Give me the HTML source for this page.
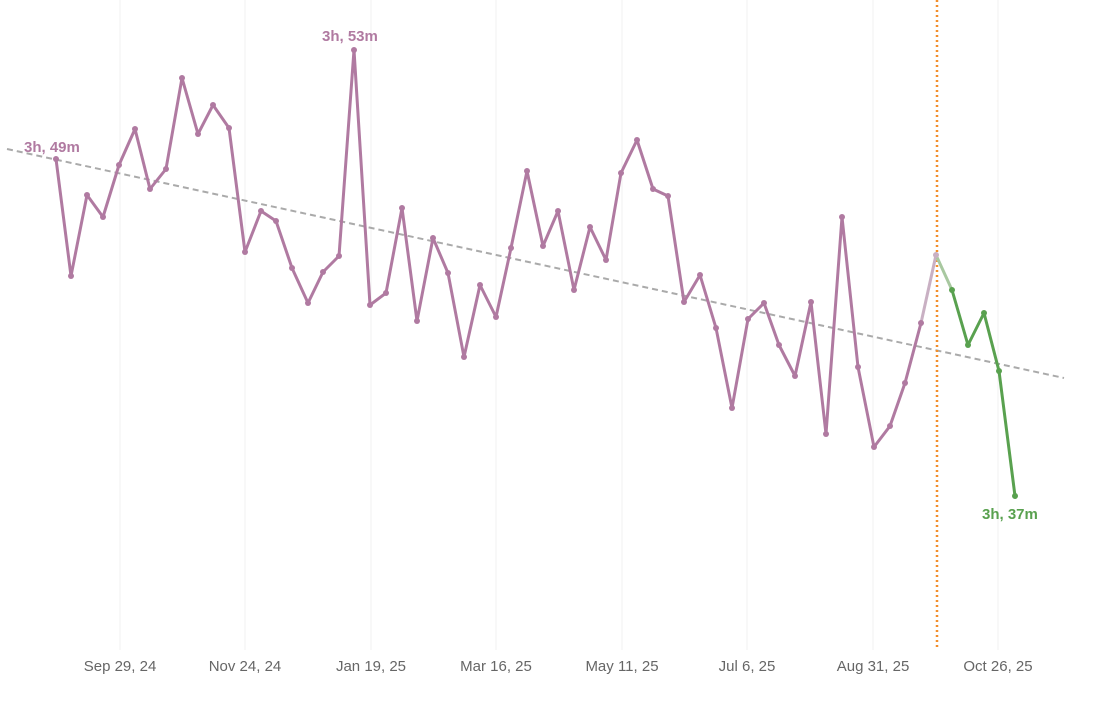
<!DOCTYPE html>
<html><head><style>
body{margin:0;background:#fff;}
svg{display:block;font-family:"Liberation Sans",sans-serif;}
</style></head><body>
<svg width="1093" height="710" xmlns="http://www.w3.org/2000/svg">
<g stroke="#f0f0f0" stroke-width="1">
<line x1="120" y1="0" x2="120" y2="650"/><line x1="245" y1="0" x2="245" y2="650"/>
<line x1="371" y1="0" x2="371" y2="650"/><line x1="496" y1="0" x2="496" y2="650"/>
<line x1="622" y1="0" x2="622" y2="650"/><line x1="747" y1="0" x2="747" y2="650"/>
<line x1="873" y1="0" x2="873" y2="650"/><line x1="998" y1="0" x2="998" y2="650"/>
</g>
<g fill="#666" font-size="15" text-anchor="middle">
<text x="120" y="671">Sep 29, 24</text><text x="245" y="671">Nov 24, 24</text>
<text x="371" y="671">Jan 19, 25</text><text x="496" y="671">Mar 16, 25</text>
<text x="622" y="671">May 11, 25</text><text x="747" y="671">Jul 6, 25</text>
<text x="873" y="671">Aug 31, 25</text><text x="998" y="671">Oct 26, 25</text>
</g>
<line x1="7" y1="149" x2="1064" y2="378" stroke="#aaa" stroke-width="2" stroke-dasharray="6,4"/>
<line x1="937" y1="0" x2="937" y2="648" stroke="#f28e2b" stroke-width="2.5" stroke-dasharray="2,3"/>
<polyline fill="none" stroke="#b07aa1" stroke-width="3" stroke-linejoin="round" points="56,159 71,276 87,195 103,217 119,165 135,129 150,189 166,169 182,78 198,134 213,105 229,128 245,252 261,211 276,221 292,268 308,303 323,272 339,256 354,50 370,305 386,293 402,208 417,321 433,238 448,273 464,357 480,285 496,317 511,248 527,171 543,246 558,211 574,290 590,227 606,260 621,173 637,140 653,189 668,196 684,302 700,275 716,328 732,408 748,319 764,303 779,345 795,376 811,302 826,434 842,217 858,367 874,447 890,426 905,383 921,323"/>
<line x1="921" y1="323" x2="936" y2="255" stroke="#c9b0c3" stroke-width="3"/>
<line x1="936" y1="255" x2="952" y2="290" stroke="#a8c8a0" stroke-width="3"/>
<polyline fill="none" stroke="#59a14f" stroke-width="3" stroke-linejoin="round" points="952,290 968,345 984,313 999,371 1015,496"/>
<g fill="#b07aa1">
<circle cx="56" cy="159" r="3"/><circle cx="71" cy="276" r="3"/><circle cx="87" cy="195" r="3"/><circle cx="103" cy="217" r="3"/><circle cx="119" cy="165" r="3"/><circle cx="135" cy="129" r="3"/><circle cx="150" cy="189" r="3"/><circle cx="166" cy="169" r="3"/><circle cx="182" cy="78" r="3"/><circle cx="198" cy="134" r="3"/><circle cx="213" cy="105" r="3"/><circle cx="229" cy="128" r="3"/><circle cx="245" cy="252" r="3"/><circle cx="261" cy="211" r="3"/><circle cx="276" cy="221" r="3"/><circle cx="292" cy="268" r="3"/><circle cx="308" cy="303" r="3"/><circle cx="323" cy="272" r="3"/><circle cx="339" cy="256" r="3"/><circle cx="354" cy="50" r="3"/><circle cx="370" cy="305" r="3"/><circle cx="386" cy="293" r="3"/><circle cx="402" cy="208" r="3"/><circle cx="417" cy="321" r="3"/><circle cx="433" cy="238" r="3"/><circle cx="448" cy="273" r="3"/><circle cx="464" cy="357" r="3"/><circle cx="480" cy="285" r="3"/><circle cx="496" cy="317" r="3"/><circle cx="511" cy="248" r="3"/><circle cx="527" cy="171" r="3"/><circle cx="543" cy="246" r="3"/><circle cx="558" cy="211" r="3"/><circle cx="574" cy="290" r="3"/><circle cx="590" cy="227" r="3"/><circle cx="606" cy="260" r="3"/><circle cx="621" cy="173" r="3"/><circle cx="637" cy="140" r="3"/><circle cx="653" cy="189" r="3"/><circle cx="668" cy="196" r="3"/><circle cx="684" cy="302" r="3"/><circle cx="700" cy="275" r="3"/><circle cx="716" cy="328" r="3"/><circle cx="732" cy="408" r="3"/><circle cx="748" cy="319" r="3"/><circle cx="764" cy="303" r="3"/><circle cx="779" cy="345" r="3"/><circle cx="795" cy="376" r="3"/><circle cx="811" cy="302" r="3"/><circle cx="826" cy="434" r="3"/><circle cx="842" cy="217" r="3"/><circle cx="858" cy="367" r="3"/><circle cx="874" cy="447" r="3"/><circle cx="890" cy="426" r="3"/><circle cx="905" cy="383" r="3"/><circle cx="921" cy="323" r="3"/>
</g>
<circle cx="936" cy="255" r="3" fill="#c9b0c3"/>
<g fill="#59a14f">
<circle cx="952" cy="290" r="3"/><circle cx="968" cy="345" r="3"/><circle cx="984" cy="313" r="3"/><circle cx="999" cy="371" r="3"/><circle cx="1015" cy="496" r="3"/>
</g>
<g font-size="15" font-weight="bold">
<text x="24" y="152" fill="#b07aa1">3h, 49m</text>
<text x="322" y="41" fill="#b07aa1">3h, 53m</text>
<text x="982" y="519" fill="#59a14f">3h, 37m</text>
</g>
</svg>
</body></html>
